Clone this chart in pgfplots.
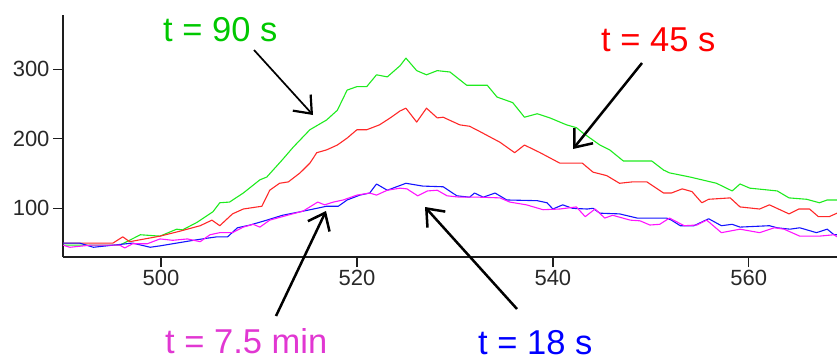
\documentclass[border=0pt]{standalone}
\usepackage{pgfplots}
\pgfplotsset{compat=1.18}
\usepackage{fontspec}
\setmainfont{Liberation Sans}
\usetikzlibrary{arrows.meta}
\definecolor{cgreen}{RGB}{30,235,30}
\definecolor{cred}{RGB}{255,40,40}
\definecolor{cblue}{RGB}{20,20,255}
\definecolor{cmag}{RGB}{255,20,255}
\definecolor{tgreen}{RGB}{0,200,0}
\definecolor{tred}{RGB}{255,0,0}
\definecolor{tblue}{RGB}{0,0,255}
\definecolor{tmag}{RGB}{225,55,210}
\definecolor{axcol}{RGB}{30,30,30}
\definecolor{labcol}{RGB}{40,40,40}
\begin{document}
\begin{tikzpicture}[x=1bp,y=1bp]
\path[use as bounding box] (0,0) rectangle (837,361);
\begin{axis}[
  at={(63bp,104bp)}, anchor=south west,
  scale only axis, width=774bp, height=242bp,
  xmin=490, xmax=569, ymin=30, ymax=378,
  axis x line*=bottom, axis y line*=left,
  axis line style={-, line width=1.3bp, color=axcol},
  xtick={500,520,540,560}, ytick={100,200,300},
  tick align=outside, major tick length=10bp,
  tick style={line width=1.3bp, color=axcol},
  ticklabel style={font=\fontsize{22bp}{24bp}\selectfont, text=labcol},
  /pgf/number format/assume math mode=true,
  /pgf/number format/1000 sep={},
  every axis plot/.append style={line width=1.1bp, line join=round},
]
\addplot[cgreen] coordinates {(490.0,47)(492.8,47)(495.8,47)(497.9,62)(499.9,60)(501.6,70)(502.2,69)(503.7,80)(505.3,95)(506.0,108)(507.0,109)(508.4,122)(510.1,141)(510.8,145)(512.4,170)(513.5,188)(515.2,213)(516.9,227)(518.0,241)(519.0,270)(520.0,275)(521.0,275)(522.0,292)(523.1,289)(524.4,305)(525.0,316)(526.1,298)(527.1,292)(528.2,298)(529.5,296)(531.2,277)(533.3,277)(534.3,260)(535.9,252)(537.1,231)(538.4,236)(539.7,230)(541.4,220)(542.4,216)(543.1,208)(544.8,191)(545.8,184)(547.2,168)(550.1,168)(551.3,155)(551.9,151)(554.0,145)(556.7,136)(558.3,125)(559.1,135)(560.1,129)(562.9,125)(564.1,115)(565.9,113)(567.2,108)(568.0,112)(569.0,112)};
\addplot[cred] coordinates {(490.0,50)(492.8,50)(495.1,50)(496.1,59)(496.8,52)(499.9,60)(501.9,67)(504.0,75)(505.2,83)(506.0,75)(507.3,92)(508.4,99)(510.3,103)(511.1,126)(512.1,136)(513.0,138)(514.2,151)(515.2,165)(515.9,180)(516.9,184)(518.0,191)(519.0,201)(520.0,213)(521.0,213)(522.3,220)(523.4,230)(524.4,240)(525.0,244)(526.1,224)(527.1,244)(528.2,230)(528.8,231)(530.5,220)(531.5,218)(532.6,210)(534.6,195)(536.1,180)(537.1,191)(538.7,180)(540.7,165)(543.0,165)(544.1,152)(545.5,147)(546.8,136)(548.1,138)(549.6,138)(551.3,122)(552.1,122)(553.2,128)(554.2,124)(555.2,108)(555.9,113)(558.1,115)(559.1,102)(561.1,99)(562.1,105)(564.1,92)(565.1,99)(566.2,99)(567.1,88)(568.2,88)(569.0,93)};
\addplot[cblue] coordinates {(490.0,50)(491.7,50)(493.1,44)(495.1,47)(497.1,50)(498.9,44)(499.9,46)(501.6,50)(503.3,54)(504.7,57)(505.7,59)(506.8,59)(507.8,72)(509.1,76)(510.8,83)(512.4,90)(514.2,95)(515.9,100)(516.9,103)(518.1,103)(519.0,112)(520.3,119)(521.3,122)(522.0,135)(523.1,126)(525.0,136)(526.7,132)(528.8,131)(530.2,118)(531.5,116)(532.0,122)(532.9,116)(534.1,122)(535.3,112)(538.4,111)(539.4,108)(540.0,99)(541.0,105)(542.0,100)(543.5,99)(544.1,100)(544.8,93)(546.8,92)(548.6,86)(551.6,86)(552.1,83)(553.0,75)(554.4,75)(555.9,85)(557.2,75)(558.3,77)(559.1,73)(562.1,75)(562.9,72)(564.2,70)(565.2,72)(566.9,65)(568.0,70)(568.7,62)(569.0,62)};
\addplot[cmag] coordinates {(490.0,47)(490.7,44)(492.8,47)(495.8,47)(496.3,43)(497.1,49)(498.6,49)(499.9,56)(501.2,54)(502.7,56)(504.0,52)(505.0,62)(506.0,65)(507.3,65)(508.4,73)(509.4,77)(510.1,73)(511.1,83)(512.9,90)(514.5,96)(516.0,109)(516.7,105)(517.6,109)(518.6,112)(520.0,119)(521.3,122)(522.0,119)(523.1,126)(524.4,129)(525.1,128)(526.2,118)(527.2,125)(528.2,126)(529.2,118)(530.5,116)(532.6,116)(534.6,115)(535.6,109)(537.3,105)(539.0,98)(540.7,99)(542.4,102)(543.3,88)(544.3,99)(545.3,86)(546.1,90)(547.9,83)(548.9,82)(549.9,76)(550.9,77)(551.9,86)(553.4,75)(554.7,76)(555.7,83)(557.2,65)(559.1,70)(561.1,65)(562.6,72)(563.6,70)(565.2,60)(567.2,60)(568.7,62)(569.0,59)};
\end{axis}
\begin{scope}[font=\fontsize{34.5bp}{40bp}\selectfont]
\node[anchor=base west, inner sep=0, text=tgreen] at (163,320) {t = 90 s};
\node[anchor=base west, inner sep=0, text=tred] at (601,310) {t = 45 s};
\node[anchor=base west, inner sep=0, text=tmag] at (165,8) {t = 7.5 min};
\node[anchor=base west, inner sep=0, text=tblue] at (478,7) {t = 18 s};
\end{scope}
\draw[line width=1.7bp, -{Straight Barb[length=15bp,width=24bp,line width=2.2bp]}] (254,311) -- (313,246);
\draw[line width=2.5bp, -{Straight Barb[length=15bp,width=24bp]}] (642,298) -- (573,212);
\draw[line width=2.5bp, -{Straight Barb[length=15bp,width=24bp]}] (276,45) -- (326,150);
\draw[line width=2.5bp, -{Straight Barb[length=15bp,width=24bp]}] (517,52) -- (425,154);
\end{tikzpicture}
\end{document}
